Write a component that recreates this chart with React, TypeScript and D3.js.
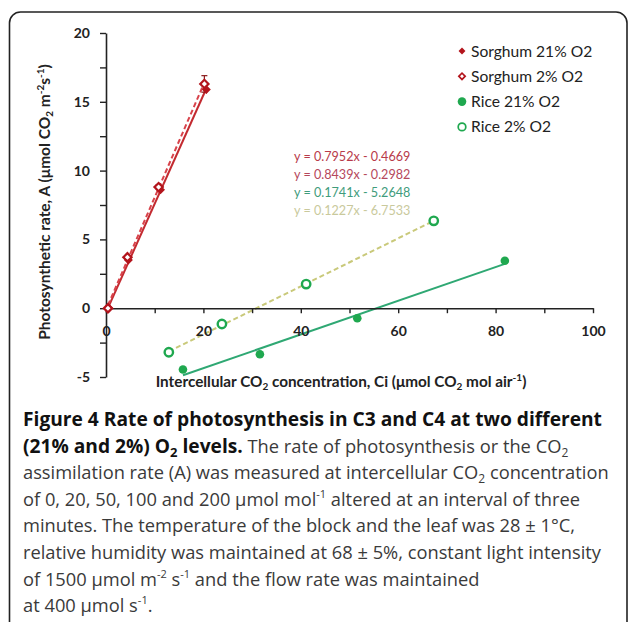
import React, { useEffect, useRef } from "react";
import * as d3 from "d3";

// ---- data ----
const sorghum21X = [0.6, 4.6, 11.2, 20.6];
const sorghum21Y = [0.0, 3.5, 8.6, 15.9];
const sorghum21Err = [0.0, 0.15, 0.2, 0.3];
const sorghum2X = [0.4, 4.4, 10.8, 20.2];
const sorghum2Y = [0.0, 3.7, 8.8, 16.3];
const sorghum2Err = [0.0, 0.1, 0.15, 0.6];
const rice21X = [15.8, 31.6, 51.6, 81.9];
const rice21Y = [-4.45, -3.35, -0.73, 3.45];
const rice2X = [12.9, 23.8, 41.1, 67.3];
const rice2Y = [-3.2, -1.15, 1.75, 6.35];

const xTickValues = [0, 10, 20, 30, 40, 50, 60, 70, 80, 90, 100];
const xTickLabels = ["0", "", "20", "", "40", "", "60", "", "80", "", "100"];
const yTickValues = [-5, -2.5, 0, 2.5, 5, 7.5, 10, 12.5, 15, 17.5, 20];
const yTickLabels = ["-5", "", "0", "", "5", "", "10", "", "15", "", "20"];

const legendLabels = ["Sorghum 21% O2", "Sorghum 2% O2", "Rice 21% O2", "Rice 2% O2"];
const equations = [
  "y = 0.7952x - 0.4669",
  "y = 0.8439x - 0.2982",
  "y = 0.1741x - 5.2648",
  "y = 0.1227x - 6.7533",
];
const equationColors = ["#b83a4a", "#b5485c", "#3f9c7c", "#c9c99c"];

const W = 629;
const H = 622;
const x = d3.scaleLinear().domain([0, 100]).range([106, 593]);
const y = d3.scaleLinear().domain([-5, 20]).range([377, 33]);

function fit(xs: number[], ys: number[]) {
  const mx = d3.mean(xs)!;
  const my = d3.mean(ys)!;
  let sxy = 0, sxx = 0;
  xs.forEach((v, i) => {
    sxy += (v - mx) * (ys[i] - my);
    sxx += (v - mx) * (v - mx);
  });
  const m = sxy / sxx;
  const b = my - m * mx;
  const x0 = d3.min(xs)!, x1 = d3.max(xs)!;
  return [[x0, m * x0 + b], [x1, m * x1 + b]] as [number, number][];
}

const line = d3.line<[number, number]>().x((d) => x(d[0])).y((d) => y(d[1]));
const diamond = (s: number) => d3.symbol().type(d3.symbolSquare).size(s)()!;

export default function App() {
  const xAxisRef = useRef<SVGGElement>(null);
  const yAxisRef = useRef<SVGGElement>(null);

  useEffect(() => {
    const xa = d3
      .axisBottom(x)
      .tickValues(xTickValues)
      .tickFormat((_, i) => xTickLabels[i])
      .tickSizeInner(5)
      .tickSizeOuter(0)
      .tickPadding(13);
    const gx = d3.select(xAxisRef.current!);
    gx.call(xa);
    gx.select(".domain").attr("stroke", "#222").attr("stroke-width", 1.6);
    gx.selectAll(".tick line").attr("stroke", "#222").attr("stroke-width", 1.4);
    gx.selectAll(".tick text")
      .attr("fill", "#222")
      .attr("font-family", "Lato, sans-serif")
      .attr("font-weight", "bold")
      .attr("font-size", 14);

    const ya = d3
      .axisLeft(y)
      .tickValues(yTickValues)
      .tickFormat((_, i) => yTickLabels[i])
      .tickSizeInner(6)
      .tickSizeOuter(0)
      .tickPadding(10);
    const gy = d3.select(yAxisRef.current!);
    gy.call(ya);
    gy.select(".domain").attr("stroke", "#222").attr("stroke-width", 1.6);
    gy.selectAll(".tick line").attr("stroke", "#222").attr("stroke-width", 1.4);
    gy.selectAll(".tick text")
      .attr("fill", "#222")
      .attr("font-family", "Lato, sans-serif")
      .attr("font-weight", "bold")
      .attr("font-size", 14);
  }, []);

  const s21 = fit(sorghum21X, sorghum21Y);
  const s2 = fit(sorghum2X, sorghum2Y);
  const r21 = fit(rice21X, rice21Y);
  const r2 = fit(rice2X, rice2Y);

  const sRed = "#b3141c";
  const green = "#1fa84f";

  const capFont = "'Open Sans', sans-serif";
  const capX = 23;
  const capY0 = 426;
  const capDy = 26.6;
  const reg = { fill: "#3a3a3a", fontWeight: 400, fontSize: 18.3 } as const;
  const bold = { fill: "#111", fontWeight: 700, fontSize: 19.2 } as const;

  return (
    <svg
      width={W}
      height={H}
      style={{ position: "absolute", left: 0, top: 0, background: "#fff" }}
    >
      <rect x={0} y={0} width={W} height={H} fill="#fff" />
      <rect x={9.5} y={12} width={617.5} height={660} rx={11} fill="none" stroke="#222" strokeWidth={1.6} />

      {/* trend lines */}
      <path d={line(s21)!} stroke="#c32a30" strokeWidth={2} fill="none" />
      <path d={line(s2)!} stroke="#d8434b" strokeWidth={2} strokeDasharray="5,3" fill="none" />
      <path d={line(r21)!} stroke="#2fa873" strokeWidth={2} fill="none" />
      <path d={line(r2)!} stroke="#c9c97a" strokeWidth={2} strokeDasharray="5,3" fill="none" />

      <g ref={xAxisRef} transform={`translate(0,${y(0)})`} />
      <g ref={yAxisRef} transform={`translate(${x(0)},0)`} />

      {/* error bars */}
      {sorghum2X.map((v, i) =>
        sorghum2Err[i] > 0 ? (
          <g key={"e2" + i} stroke="#8a1a1a" strokeWidth={1.2}>
            <line x1={x(v)} x2={x(v)} y1={y(sorghum2Y[i] - sorghum2Err[i])} y2={y(sorghum2Y[i] + sorghum2Err[i])} />
            <line x1={x(v) - 3} x2={x(v) + 3} y1={y(sorghum2Y[i] + sorghum2Err[i])} y2={y(sorghum2Y[i] + sorghum2Err[i])} />
            <line x1={x(v) - 3} x2={x(v) + 3} y1={y(sorghum2Y[i] - sorghum2Err[i])} y2={y(sorghum2Y[i] - sorghum2Err[i])} />
          </g>
        ) : null
      )}
      {sorghum21X.map((v, i) =>
        sorghum21Err[i] > 0 ? (
          <g key={"e21" + i} stroke="#8a1a1a" strokeWidth={1.2}>
            <line x1={x(v)} x2={x(v)} y1={y(sorghum21Y[i] - sorghum21Err[i])} y2={y(sorghum21Y[i] + sorghum21Err[i])} />
          </g>
        ) : null
      )}

      {/* markers */}
      {sorghum21X.map((v, i) => (
        <path key={"s21" + i} d={diamond(40)} transform={`translate(${x(v)},${y(sorghum21Y[i])}) rotate(45)`} fill={sRed} />
      ))}
      {sorghum2X.map((v, i) => (
        <path key={"s2" + i} d={diamond(34)} transform={`translate(${x(v)},${y(sorghum2Y[i])}) rotate(45)`} fill="#fff" stroke={sRed} strokeWidth={2.2} />
      ))}
      {rice21X.map((v, i) => (
        <circle key={"r21" + i} cx={x(v)} cy={y(rice21Y[i])} r={4.3} fill={green} />
      ))}
      {rice2X.map((v, i) => (
        <circle key={"r2" + i} cx={x(v)} cy={y(rice2Y[i])} r={4.2} fill="#fff" stroke={green} strokeWidth={2.4} />
      ))}

      {/* equations */}
      {equations.map((e, i) => (
        <text key={e} x={294} y={161 + i * 18} fontFamily="Lato, sans-serif" fontSize={12.6} fill={equationColors[i]}>
          {e}
        </text>
      ))}

      {/* legend */}
      {legendLabels.map((l, i) => {
        const cy = 51 + i * 25.3;
        return (
          <g key={l}>
            {i === 0 && <path d={diamond(24)} transform={`translate(462,${cy}) rotate(45)`} fill={sRed} />}
            {i === 1 && <path d={diamond(20)} transform={`translate(462,${cy}) rotate(45)`} fill="#fff" stroke={sRed} strokeWidth={1.7} />}
            {i === 2 && <circle cx={462} cy={cy} r={4.3} fill={green} />}
            {i === 3 && <circle cx={462} cy={cy} r={3.8} fill="#fff" stroke={green} strokeWidth={1.7} />}
            <text x={471} y={cy + 5.5} fontFamily="Lato, sans-serif" fontSize={15.6} fill="#222">
              {l}
            </text>
          </g>
        );
      })}

      {/* axis titles */}
      <text
        transform={`translate(50,${202}) rotate(-90)`}
        textAnchor="middle"
        fontFamily="Lato, sans-serif"
        fontWeight="bold"
        fontSize={15.5}
        fill="#222"
      >
        Photosynthetic rate, A (μmol CO<tspan fontSize={10} dy={3}>2</tspan>
        <tspan dy={-3}> m</tspan>
        <tspan fontSize={10} dy={-6}>-2</tspan>
        <tspan dy={6}>s</tspan>
        <tspan fontSize={10} dy={-6}>-1</tspan>
        <tspan dy={6}>)</tspan>
      </text>
      <text x={341} y={387} textAnchor="middle" fontFamily="Lato, sans-serif" fontWeight="bold" fontSize={15.3} fill="#222">
        Intercellular CO<tspan fontSize={10} dy={3}>2</tspan>
        <tspan dy={-3}> concentration, Ci (μmol CO</tspan>
        <tspan fontSize={10} dy={3}>2</tspan>
        <tspan dy={-3}> mol air</tspan>
        <tspan fontSize={10} dy={-6}>-1</tspan>
        <tspan dy={6}>)</tspan>
      </text>

      {/* caption */}
      <g fontFamily={capFont}>
        <text x={capX} y={capY0} {...bold}>
          Figure 4 Rate of photosynthesis in C3 and C4 at two different
        </text>
        <text x={capX} y={capY0 + capDy}>
          <tspan {...bold}>(21% and 2%) O</tspan>
          <tspan {...bold} fontSize={13} dy={4}>2</tspan>
          <tspan {...bold} dy={-4}> levels.</tspan>
          <tspan {...reg}> The rate of photosynthesis or the CO</tspan>
          <tspan {...reg} fontSize={12} dy={4}>2</tspan>
        </text>
        <text x={capX} y={capY0 + 2 * capDy} {...reg}>
          assimilation rate (A) was measured at intercellular CO
          <tspan fontSize={12} dy={4}>2</tspan>
          <tspan dy={-4}> concentration</tspan>
        </text>
        <text x={capX} y={capY0 + 3 * capDy} {...reg}>
          of 0, 20, 50, 100 and 200 μmol mol
          <tspan fontSize={11} dy={-8}>-1</tspan>
          <tspan dy={8}> altered at an interval of three</tspan>
        </text>
        <text x={capX} y={capY0 + 4 * capDy} {...reg}>
          minutes. The temperature of the block and the leaf was 28 ± 1°C,
        </text>
        <text x={capX} y={capY0 + 5 * capDy} {...reg}>
          relative humidity was maintained at 68 ± 5%, constant light intensity
        </text>
        <text x={capX} y={capY0 + 6 * capDy} {...reg}>
          of 1500 μmol m<tspan fontSize={11} dy={-8}>-2</tspan>
          <tspan dy={8}> s</tspan>
          <tspan fontSize={11} dy={-8}>-1</tspan>
          <tspan dy={8}> and the flow rate was maintained</tspan>
        </text>
        <text x={capX} y={capY0 + 7 * capDy} {...reg}>
          at 400 μmol s<tspan fontSize={11} dy={-8}>-1</tspan>
          <tspan dy={8}>.</tspan>
        </text>
      </g>
    </svg>
  );
}
